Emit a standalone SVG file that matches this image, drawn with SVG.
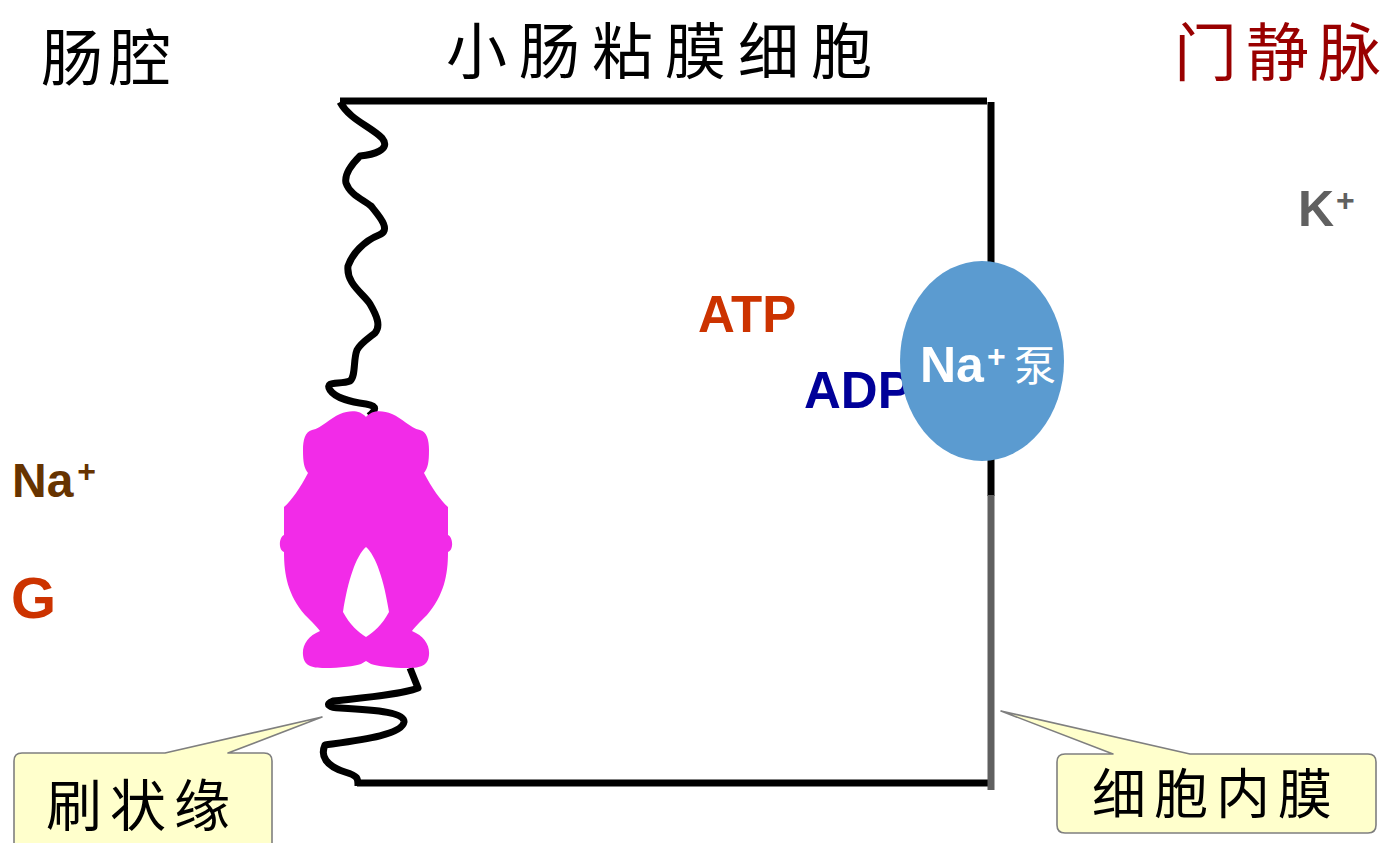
<svg xmlns="http://www.w3.org/2000/svg" width="1397" height="843" viewBox="0 0 1397 843">
  <style>
    .cjk { font-family: "Noto Sans CJK SC", "Noto Sans", sans-serif; }
    .lat { font-family: "Liberation Sans", Arial, sans-serif; font-weight: bold; }
    .membrane { fill: none; stroke: #000; stroke-width: 7; stroke-linejoin: round; stroke-linecap: butt; }
    .callout { fill: #FFFFCC; stroke: #7F7F7F; stroke-width: 1.6; stroke-linejoin: round; }
  </style>

  <rect width="1397" height="843" fill="#fff"/>

  <!-- region titles -->
  <g id="titles" class="cjk">
    <text x="41" y="81" font-size="62" letter-spacing="6" fill="#000">肠腔</text>
    <text x="446" y="74" font-size="61" letter-spacing="12" fill="#000">小肠粘膜细胞</text>
    <text x="1174" y="75" font-size="63" letter-spacing="9" fill="#990000">门静脉</text>
  </g>

  <!-- cell membranes -->
  <g id="connectors">
    <!-- apical (brush border) membrane, top part -->
    <path class="membrane" d="M340,102 C350,120 370,126 382,138 C392,150 372,155 360,156 C352,164 344,174 346,183 C350,195 364,200 371,206 C379,216 392,230 379,235 C364,241 352,254 348,266 C346,284 364,294 370,304 C377,316 381,326 375,333 C366,340 360,344 357,350 C353,360 356,376 350,381 C340,385 324,380 330,390 C336,399 352,402 366,404 C378,406 376,410 369,416"/>
    <!-- apical membrane, lower part -->
    <path class="membrane" d="M410,668 L418,688 C400,695 360,698 333,701 C324,704 330,708 340,708 C380,710 405,713 404,722 C402,735 360,740 325,745 C320,756 326,766 345,772 C358,776 358,778 358,786"/>
    <!-- top and bottom borders -->
    <line class="membrane" x1="340" y1="101" x2="987" y2="101"/>
    <line class="membrane" x1="357" y1="783" x2="991" y2="783"/>
    <!-- basolateral membrane -->
    <line class="membrane" x1="991" y1="102" x2="991" y2="496"/>
    <line x1="991" y1="495" x2="991" y2="790" stroke="#606060" stroke-width="7"/>
  </g>

  <!-- Na+/glucose cotransporter -->
  <g id="transporter">
    <path fill="#F22BE8" fill-rule="evenodd" d="M366,417 C360,410 350,410 340,414 C330,418 322,428 312,430 C305,432 303,440 303,450 C303,462 304,468 308,473 C300,488 292,500 284,507 L284,535 C279,537 278,550 284,552 C284,575 288,595 305,615 C312,622 318,628 320,631 C308,636 302,645 303,655 C304,665 310,668 325,668 C340,668 355,666 361,664 L366,661 L371,664 C377,666 392,668 407,668 C422,668 428,665 429,655 C430,645 424,636 412,631 C414,628 420,622 427,615 C444,595 448,575 448,552 C454,550 453,537 448,535 L448,507 C440,500 432,488 424,473 C428,468 429,462 429,450 C429,440 427,432 420,430 C410,428 402,418 392,414 C382,410 372,410 366,417 Z M366,547 C356,556 348,580 343,612 C350,625 358,632 366,637 C374,632 382,625 389,612 C384,580 376,556 366,547 Z"/>
  </g>

  <!-- solutes -->
  <g id="na-lumen" class="lat">
    <text x="12" y="497" font-size="48" fill="#663300">Na<tspan font-size="32" dx="4" dy="-15">+</tspan></text>
  </g>
  <g id="glucose" class="lat">
    <text x="11" y="618" font-size="58" fill="#CC3300">G</text>
  </g>
  <g id="atp" class="lat">
    <text x="698" y="332" font-size="51" fill="#CC3300">ATP</text>
  </g>
  <g id="adp" class="lat">
    <text x="804" y="408" font-size="51" fill="#000099">ADP</text>
  </g>
  <g id="k-ion" class="lat">
    <text x="1298" y="226" font-size="50" fill="#606060">K<tspan font-size="32" dx="2" dy="-15">+</tspan></text>
  </g>

  <!-- Na+ pump -->
  <g id="na-pump">
    <ellipse cx="982" cy="361" rx="82" ry="100" fill="#5B9BD0"/>
    <text x="920" y="382" class="lat" font-size="50" fill="#fff">Na<tspan font-size="32" dx="3" dy="-15">+</tspan></text>
    <text x="1014" y="381" class="cjk" font-size="42" fill="#fff">泵</text>
  </g>

  <!-- callouts -->
  <g id="callout-brush-border">
    <path class="callout" d="M22,753 L165,753 L322,717 L228,753 L264,753 Q272,753 272,761 L272,852 L14,852 L14,761 Q14,753 22,753 Z"/>
    <text x="46" y="826" class="cjk" font-size="56" letter-spacing="8" fill="#000">刷状缘</text>
  </g>
  <g id="callout-inner-membrane">
    <path class="callout" d="M1065,754 L1113,754 L1001,711 L1190,754 L1368,754 Q1376,754 1376,762 L1376,825 Q1376,833 1368,833 L1065,833 Q1057,833 1057,825 L1057,762 Q1057,754 1065,754 Z"/>
    <text x="1092" y="814" class="cjk" font-size="54" letter-spacing="8" fill="#000">细胞内膜</text>
  </g>
</svg>
